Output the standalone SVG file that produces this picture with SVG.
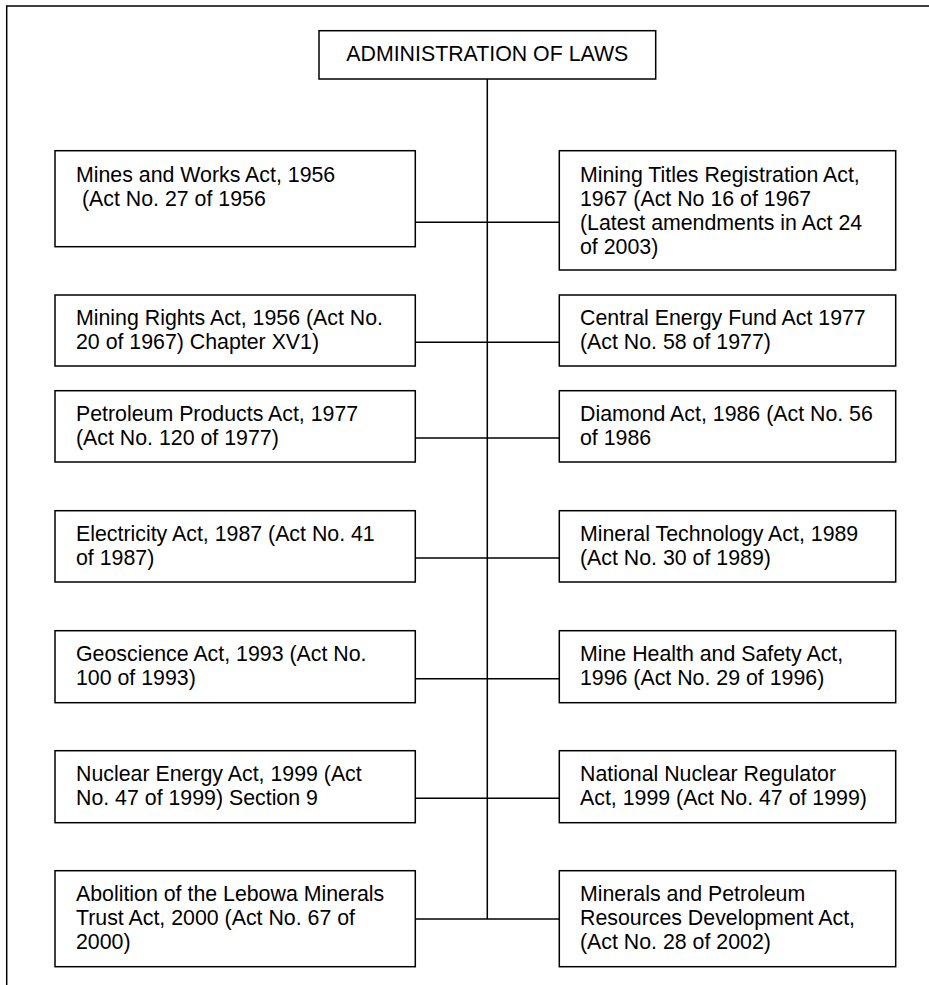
<svg xmlns="http://www.w3.org/2000/svg" width="929" height="985" viewBox="0 0 929 985">
<style>
.box{fill:#fff;stroke:#000;stroke-width:1.5}
.ln{fill:none;stroke:#000;stroke-width:1.5}
text{font-family:"Liberation Sans",Arial,sans-serif;font-size:21.33px;fill:#000}
</style>
<rect x="0" y="0" width="929" height="985" fill="#fff"/>
<rect id="frame" class="ln" x="6.7" y="6" width="1000" height="1100"/>
<g id="connectors" class="ln">
<line x1="487.3" y1="79" x2="487.3" y2="919"/>
<line x1="415.3" y1="222.3" x2="559.3" y2="222.3"/>
<line x1="415.3" y1="342.3" x2="559.3" y2="342.3"/>
<line x1="415.3" y1="438" x2="559.3" y2="438"/>
<line x1="415.3" y1="558" x2="559.3" y2="558"/>
<line x1="415.3" y1="678.7" x2="559.3" y2="678.7"/>
<line x1="415.3" y1="798.3" x2="559.3" y2="798.3"/>
<line x1="415.3" y1="919" x2="559.3" y2="919"/>
</g>
<g id="root"><rect class="box" x="319" y="30.7" width="336.7" height="48.3"/><text x="487.3" y="61" text-anchor="middle">ADMINISTRATION OF LAWS</text></g>
<g id="mines-works"><rect class="box" x="55" y="150.7" width="360.3" height="96"/><text x="76" y="181.7">Mines and Works Act, 1956</text><text x="82" y="205.5">(Act No. 27 of 1956</text></g>
<g id="mining-titles"><rect class="box" x="559.3" y="150.7" width="336.4" height="119.3"/><text x="580" y="181.5">Mining Titles Registration Act,</text><text x="580" y="205.5">1967 (Act No 16 of 1967</text><text x="580" y="229.5">(Latest amendments in Act 24</text><text x="580" y="253.5">of 2003)</text></g>
<g id="mining-rights"><rect class="box" x="55" y="295" width="360.3" height="71"/><text x="76" y="325">Mining Rights Act, 1956 (Act No.</text><text x="76" y="349">20 of 1967) Chapter XV1)</text></g>
<g id="central-energy"><rect class="box" x="559.3" y="295" width="336.4" height="71"/><text x="580" y="325">Central Energy Fund Act 1977</text><text x="580" y="349">(Act No. 58 of 1977)</text></g>
<g id="petroleum"><rect class="box" x="55" y="390.7" width="360.3" height="71.3"/><text x="76" y="420.7">Petroleum Products Act, 1977</text><text x="76" y="444.7">(Act No. 120 of 1977)</text></g>
<g id="diamond"><rect class="box" x="559.3" y="390.7" width="336.4" height="71.3"/><text x="580" y="420.7">Diamond Act, 1986 (Act No. 56</text><text x="580" y="444.7">of 1986</text></g>
<g id="electricity"><rect class="box" x="55" y="510.7" width="360.3" height="71.3"/><text x="76" y="540.7">Electricity Act, 1987 (Act No. 41</text><text x="76" y="564.7">of 1987)</text></g>
<g id="mineral-technology"><rect class="box" x="559.3" y="510.7" width="336.4" height="71.3"/><text x="580" y="540.7">Mineral Technology Act, 1989</text><text x="580" y="564.7">(Act No. 30 of 1989)</text></g>
<g id="geoscience"><rect class="box" x="55" y="630.7" width="360.3" height="72"/><text x="76" y="660.7">Geoscience Act, 1993 (Act No.</text><text x="76" y="684.7">100 of 1993)</text></g>
<g id="mine-health"><rect class="box" x="559.3" y="630.7" width="336.4" height="72"/><text x="580" y="660.7">Mine Health and Safety Act,</text><text x="580" y="684.7">1996 (Act No. 29 of 1996)</text></g>
<g id="nuclear-energy"><rect class="box" x="55" y="750.7" width="360.3" height="72"/><text x="76" y="780.7">Nuclear Energy Act, 1999 (Act</text><text x="76" y="804.7">No. 47 of 1999) Section 9</text></g>
<g id="nuclear-regulator"><rect class="box" x="559.3" y="750.7" width="336.4" height="72"/><text x="580" y="780.7">National Nuclear Regulator</text><text x="580" y="804.7">Act, 1999 (Act No. 47 of 1999)</text></g>
<g id="lebowa"><rect class="box" x="55" y="870.7" width="360.3" height="96"/><text x="76" y="900.7">Abolition of the Lebowa Minerals</text><text x="76" y="924.7">Trust Act, 2000 (Act No. 67 of</text><text x="76" y="948.7">2000)</text></g>
<g id="mprda"><rect class="box" x="559.3" y="870.7" width="336.4" height="96"/><text x="580" y="900.7">Minerals and Petroleum</text><text x="580" y="924.7">Resources Development Act,</text><text x="580" y="948.7">(Act No. 28 of 2002)</text></g>
</svg>
